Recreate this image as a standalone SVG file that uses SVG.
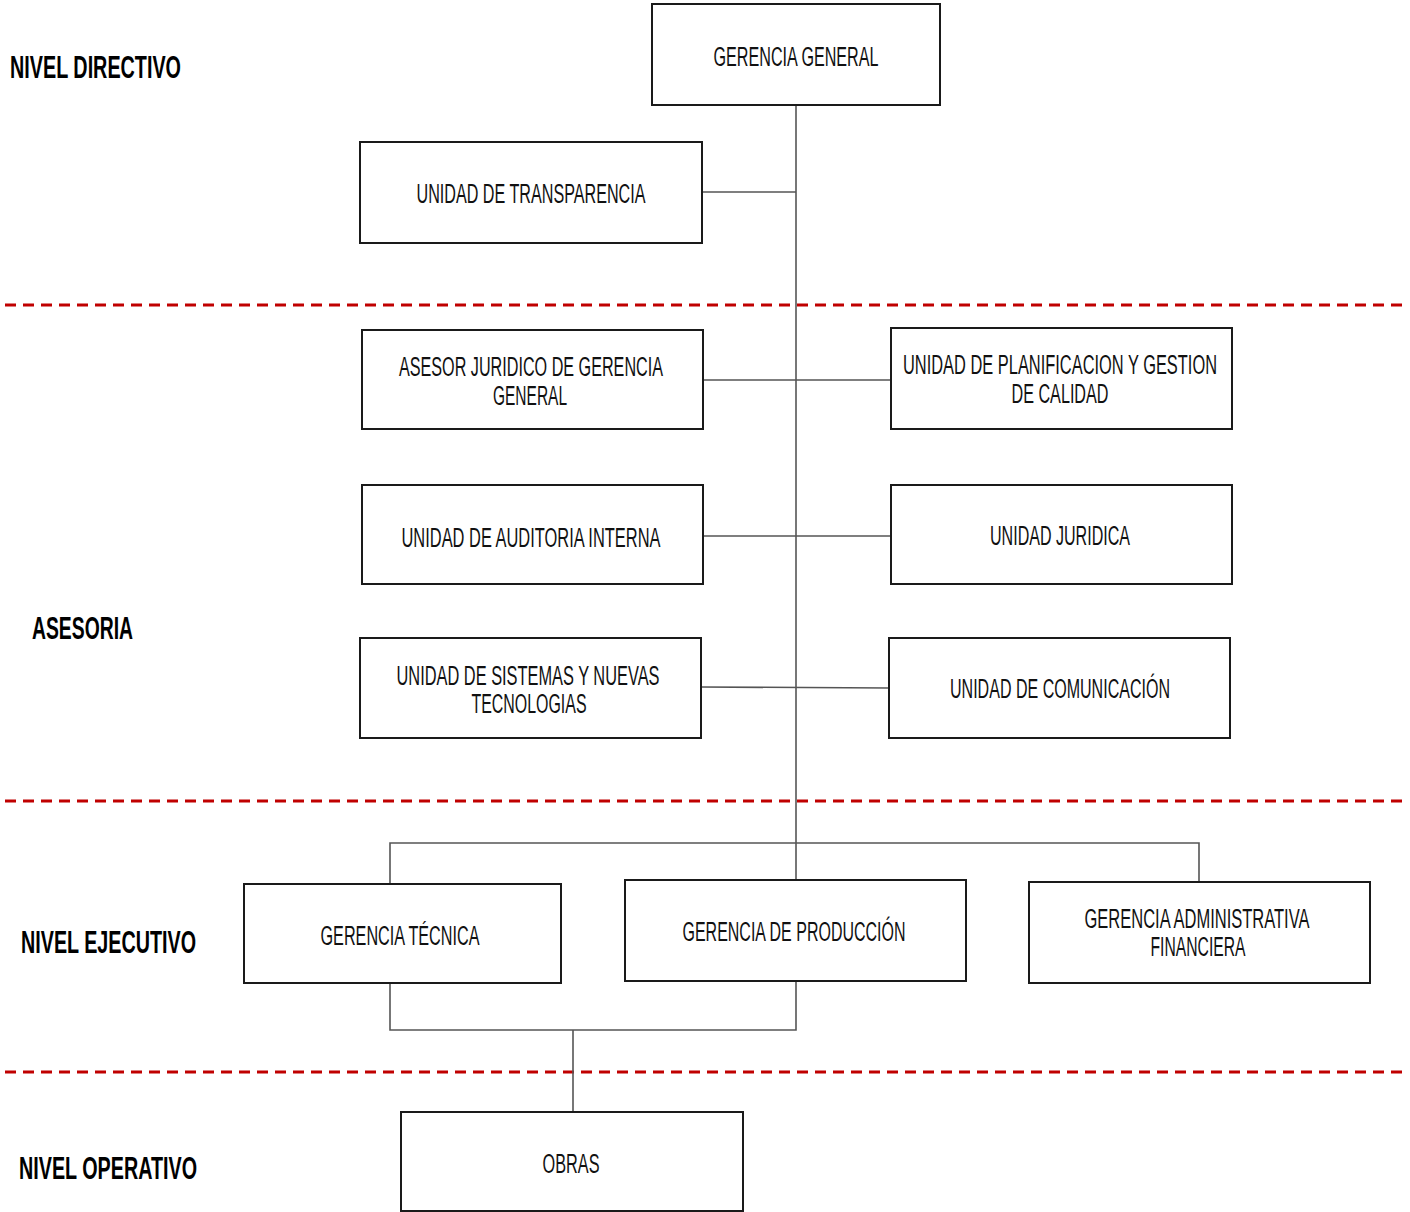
<svg xmlns="http://www.w3.org/2000/svg" width="1410" height="1212" viewBox="0 0 1410 1212">
<style>
.box{fill:#fff;stroke:#1a1a1a;stroke-width:2}
.t{font-family:"Liberation Sans",Arial,sans-serif;font-size:27px;fill:#111;text-anchor:middle}
.lvl{font-family:"Liberation Sans",Arial,sans-serif;font-size:31px;font-weight:bold;fill:#000}
.c{fill:none;stroke:#555;stroke-width:1.6}
.d{stroke:#c00000;stroke-width:3;stroke-dasharray:11 7}
</style>
<rect width="1410" height="1212" fill="#fff"/>
<g id="dividers">
<line class="d" x1="5" y1="305" x2="1402" y2="305"/>
<line class="d" x1="5" y1="801" x2="1402" y2="801"/>
<line class="d" x1="5" y1="1072" x2="1402" y2="1072"/>
</g>
<g id="levels">
<text class="lvl" x="10" y="78" textLength="171" lengthAdjust="spacingAndGlyphs">NIVEL DIRECTIVO</text>
<text class="lvl" x="32" y="639" textLength="101" lengthAdjust="spacingAndGlyphs">ASESORIA</text>
<text class="lvl" x="21" y="953" textLength="175" lengthAdjust="spacingAndGlyphs">NIVEL EJECUTIVO</text>
<text class="lvl" x="19" y="1179" textLength="178" lengthAdjust="spacingAndGlyphs">NIVEL OPERATIVO</text>
</g>
<g id="connectors">
<line class="c" x1="796" y1="105" x2="796" y2="880"/>
<line class="c" x1="702" y1="192" x2="796" y2="192"/>
<line class="c" x1="703" y1="380" x2="891" y2="380"/>
<line class="c" x1="703" y1="536" x2="891" y2="536"/>
<line class="c" x1="701" y1="687" x2="889" y2="688"/>
<polyline class="c" points="390,884 390,843 1199,843 1199,882"/>
<polyline class="c" points="390,983 390,1030 796,1030 796,981"/>
<line class="c" x1="573" y1="1030" x2="573" y2="1112"/>
</g>
<g id="gerencia-general">
<rect class="box" x="652" y="4" width="288" height="101"/>
<text class="t" x="796" y="66" textLength="165" lengthAdjust="spacingAndGlyphs">GERENCIA  GENERAL</text>
</g>
<g id="unidad-transparencia">
<rect class="box" x="360" y="142" width="342" height="101"/>
<text class="t" x="531" y="203" textLength="229" lengthAdjust="spacingAndGlyphs">UNIDAD  DE  TRANSPARENCIA</text>
</g>
<g id="asesor-juridico">
<rect class="box" x="362" y="330" width="341" height="99"/>
<text class="t" x="531" y="376" textLength="264" lengthAdjust="spacingAndGlyphs">ASESOR JURIDICO DE GERENCIA</text>
<text class="t" x="530" y="405" textLength="74" lengthAdjust="spacingAndGlyphs">GENERAL</text>
</g>
<g id="unidad-planificacion">
<rect class="box" x="891" y="328" width="341" height="101"/>
<text class="t" x="1060" y="374" textLength="314" lengthAdjust="spacingAndGlyphs">UNIDAD  DE  PLANIFICACION  Y GESTION</text>
<text class="t" x="1060" y="403" textLength="97" lengthAdjust="spacingAndGlyphs">DE CALIDAD</text>
</g>
<g id="unidad-auditoria">
<rect class="box" x="362" y="485" width="341" height="99"/>
<text class="t" x="531" y="547" textLength="259" lengthAdjust="spacingAndGlyphs">UNIDAD  DE  AUDITORIA  INTERNA</text>
</g>
<g id="unidad-juridica">
<rect class="box" x="891" y="485" width="341" height="99"/>
<text class="t" x="1060" y="545" textLength="140" lengthAdjust="spacingAndGlyphs">UNIDAD  JURIDICA</text>
</g>
<g id="unidad-sistemas">
<rect class="box" x="360" y="638" width="341" height="100"/>
<text class="t" x="528" y="685" textLength="263" lengthAdjust="spacingAndGlyphs">UNIDAD  DE  SISTEMAS Y NUEVAS</text>
<text class="t" x="529" y="713" textLength="115" lengthAdjust="spacingAndGlyphs">TECNOLOGIAS</text>
</g>
<g id="unidad-comunicacion">
<rect class="box" x="889" y="638" width="341" height="100"/>
<text class="t" x="1060" y="698" textLength="220" lengthAdjust="spacingAndGlyphs">UNIDAD  DE  COMUNICACIÓN</text>
</g>
<g id="gerencia-tecnica">
<rect class="box" x="244" y="884" width="317" height="99"/>
<text class="t" x="400" y="945" textLength="159" lengthAdjust="spacingAndGlyphs">GERENCIA  TÉCNICA</text>
</g>
<g id="gerencia-produccion">
<rect class="box" x="625" y="880" width="341" height="101"/>
<text class="t" x="794" y="941" textLength="223" lengthAdjust="spacingAndGlyphs">GERENCIA  DE  PRODUCCIÓN</text>
</g>
<g id="gerencia-administrativa">
<rect class="box" x="1029" y="882" width="341" height="101"/>
<text class="t" x="1197" y="928" textLength="225" lengthAdjust="spacingAndGlyphs">GERENCIA  ADMINISTRATIVA</text>
<text class="t" x="1198" y="956" textLength="95" lengthAdjust="spacingAndGlyphs">FINANCIERA</text>
</g>
<g id="obras">
<rect class="box" x="401" y="1112" width="342" height="99"/>
<text class="t" x="571" y="1173" textLength="57" lengthAdjust="spacingAndGlyphs">OBRAS</text>
</g>
</svg>
